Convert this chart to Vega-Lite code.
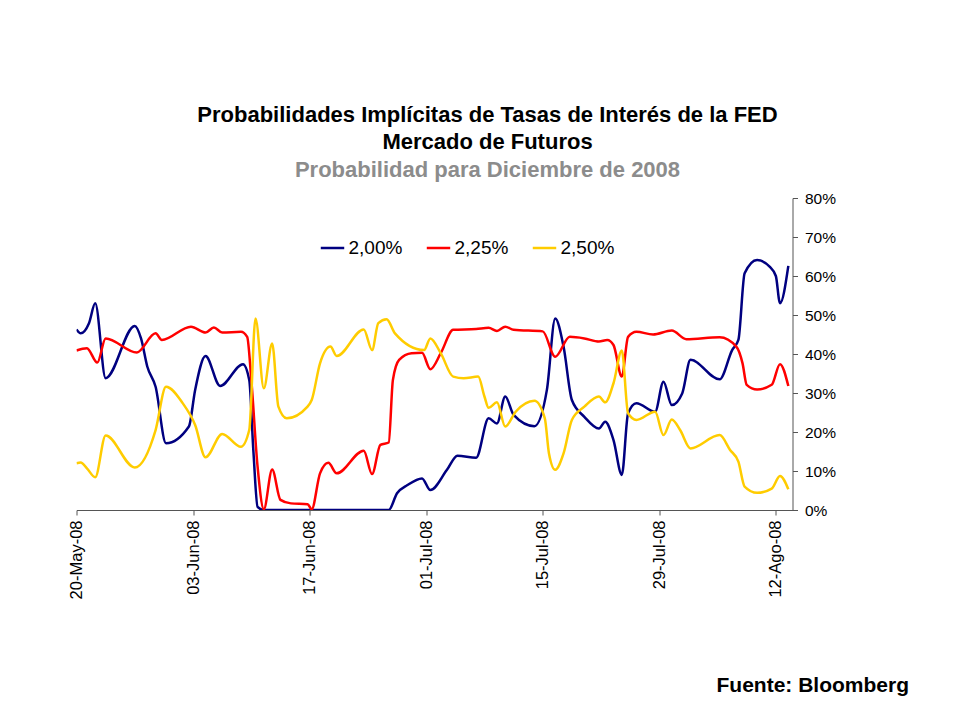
{
  "$schema": "https://vega.github.io/schema/vega-lite/v6.json",
  "width": 716,
  "height": 312,
  "autosize": {"type": "none"},
  "padding": {"left": 76.5, "top": 198, "right": 165.5, "bottom": 210},
  "background": "#ffffff",
  "config": {"view": {"stroke": null}, "font": "Liberation Sans"},
  "title": {
    "text": ["Probabilidades Implícitas de Tasas de Interés de la FED", "Mercado de Futuros"],
    "subtitle": "Probabilidad para Diciembre de 2008",
    "font": "Liberation Sans", "fontSize": 22, "fontWeight": "bold", "color": "#000000",
    "subtitleFont": "Liberation Sans", "subtitleFontSize": 22, "subtitleFontWeight": "bold", "subtitleColor": "#8c8c8c",
    "lineHeight": 27, "subtitleLineHeight": 27, "subtitlePadding": 6,
    "anchor": "middle", "frame": "group", "dx": 53, "offset": 9
  },
  "data": {"values": [
    {"t":"2008-05-20T00:00Z","s":"2,00%","v":46.3},
    {"t":"2008-05-20T12:00Z","s":"2,00%","v":45.3},
    {"t":"2008-05-21T12:00Z","s":"2,00%","v":47.9},
    {"t":"2008-05-22T06:00Z","s":"2,00%","v":53.0},
    {"t":"2008-05-23T12:00Z","s":"2,00%","v":33.8},
    {"t":"2008-05-27T00:00Z","s":"2,00%","v":47.2},
    {"t":"2008-05-27T18:00Z","s":"2,00%","v":44.0},
    {"t":"2008-05-28T12:00Z","s":"2,00%","v":36.8},
    {"t":"2008-05-29T12:00Z","s":"2,00%","v":31.6},
    {"t":"2008-05-30T18:00Z","s":"2,00%","v":17.1},
    {"t":"2008-06-02T12:00Z","s":"2,00%","v":21.4},
    {"t":"2008-06-03T06:00Z","s":"2,00%","v":30.8},
    {"t":"2008-06-04T12:00Z","s":"2,00%","v":39.5},
    {"t":"2008-06-06T06:00Z","s":"2,00%","v":31.8},
    {"t":"2008-06-09T00:00Z","s":"2,00%","v":37.4},
    {"t":"2008-06-09T18:00Z","s":"2,00%","v":33.3},
    {"t":"2008-06-10T06:00Z","s":"2,00%","v":15.0},
    {"t":"2008-06-10T18:00Z","s":"2,00%","v":0.8},
    {"t":"2008-06-11T12:00Z","s":"2,00%","v":0},
    {"t":"2008-06-18T06:00Z","s":"2,00%","v":0},
    {"t":"2008-06-26T12:00Z","s":"2,00%","v":0},
    {"t":"2008-06-27T12:00Z","s":"2,00%","v":4.3},
    {"t":"2008-06-28T18:00Z","s":"2,00%","v":6.4},
    {"t":"2008-06-30T12:00Z","s":"2,00%","v":8.1},
    {"t":"2008-07-01T12:00Z","s":"2,00%","v":5.1},
    {"t":"2008-07-03T12:00Z","s":"2,00%","v":10.3},
    {"t":"2008-07-04T18:00Z","s":"2,00%","v":13.9},
    {"t":"2008-07-07T00:00Z","s":"2,00%","v":13.4},
    {"t":"2008-07-08T12:00Z","s":"2,00%","v":23.5},
    {"t":"2008-07-09T12:00Z","s":"2,00%","v":22.2},
    {"t":"2008-07-10T12:00Z","s":"2,00%","v":29.1},
    {"t":"2008-07-11T12:00Z","s":"2,00%","v":24.4},
    {"t":"2008-07-14T00:00Z","s":"2,00%","v":21.5},
    {"t":"2008-07-15T12:00Z","s":"2,00%","v":30.8},
    {"t":"2008-07-16T12:00Z","s":"2,00%","v":49.1},
    {"t":"2008-07-17T12:00Z","s":"2,00%","v":41.9},
    {"t":"2008-07-18T12:00Z","s":"2,00%","v":28.2},
    {"t":"2008-07-20T00:00Z","s":"2,00%","v":23.9},
    {"t":"2008-07-21T18:00Z","s":"2,00%","v":20.9},
    {"t":"2008-07-22T12:00Z","s":"2,00%","v":22.6},
    {"t":"2008-07-23T12:00Z","s":"2,00%","v":17.9},
    {"t":"2008-07-24T12:00Z","s":"2,00%","v":9.0},
    {"t":"2008-07-25T06:00Z","s":"2,00%","v":24.8},
    {"t":"2008-07-26T06:00Z","s":"2,00%","v":27.4},
    {"t":"2008-07-28T12:00Z","s":"2,00%","v":25.2},
    {"t":"2008-07-29T12:00Z","s":"2,00%","v":32.9},
    {"t":"2008-07-30T12:00Z","s":"2,00%","v":26.9},
    {"t":"2008-07-31T18:00Z","s":"2,00%","v":29.9},
    {"t":"2008-08-01T18:00Z","s":"2,00%","v":38.5},
    {"t":"2008-08-05T06:00Z","s":"2,00%","v":33.5},
    {"t":"2008-08-06T18:00Z","s":"2,00%","v":41.0},
    {"t":"2008-08-07T12:00Z","s":"2,00%","v":43.6},
    {"t":"2008-08-08T06:00Z","s":"2,00%","v":60.7},
    {"t":"2008-08-09T18:00Z","s":"2,00%","v":64.1},
    {"t":"2008-08-11T06:00Z","s":"2,00%","v":62.4},
    {"t":"2008-08-12T00:00Z","s":"2,00%","v":60.0},
    {"t":"2008-08-12T12:00Z","s":"2,00%","v":53.0},
    {"t":"2008-08-13T12:00Z","s":"2,00%","v":62.6},

    {"t":"2008-05-20T00:00Z","s":"2,25%","v":40.9},
    {"t":"2008-05-21T06:00Z","s":"2,25%","v":41.5},
    {"t":"2008-05-22T12:00Z","s":"2,25%","v":37.8},
    {"t":"2008-05-23T12:00Z","s":"2,25%","v":44.0},
    {"t":"2008-05-27T06:00Z","s":"2,25%","v":40.4},
    {"t":"2008-05-29T12:00Z","s":"2,25%","v":45.3},
    {"t":"2008-05-30T06:00Z","s":"2,25%","v":43.6},
    {"t":"2008-06-02T18:00Z","s":"2,25%","v":47.0},
    {"t":"2008-06-04T12:00Z","s":"2,25%","v":45.5},
    {"t":"2008-06-05T12:00Z","s":"2,25%","v":46.8},
    {"t":"2008-06-06T12:00Z","s":"2,25%","v":45.5},
    {"t":"2008-06-08T18:00Z","s":"2,25%","v":45.7},
    {"t":"2008-06-09T12:00Z","s":"2,25%","v":44.4},
    {"t":"2008-06-10T00:00Z","s":"2,25%","v":33.3},
    {"t":"2008-06-10T18:00Z","s":"2,25%","v":11.1},
    {"t":"2008-06-11T12:00Z","s":"2,25%","v":0.2},
    {"t":"2008-06-12T12:00Z","s":"2,25%","v":10.4},
    {"t":"2008-06-13T12:00Z","s":"2,25%","v":2.6},
    {"t":"2008-06-14T18:00Z","s":"2,25%","v":1.7},
    {"t":"2008-06-16T18:00Z","s":"2,25%","v":1.5},
    {"t":"2008-06-17T06:00Z","s":"2,25%","v":0.2},
    {"t":"2008-06-18T06:00Z","s":"2,25%","v":9.4},
    {"t":"2008-06-19T06:00Z","s":"2,25%","v":12.1},
    {"t":"2008-06-20T06:00Z","s":"2,25%","v":9.4},
    {"t":"2008-06-23T12:00Z","s":"2,25%","v":15.2},
    {"t":"2008-06-24T12:00Z","s":"2,25%","v":9.2},
    {"t":"2008-06-25T12:00Z","s":"2,25%","v":16.7},
    {"t":"2008-06-26T12:00Z","s":"2,25%","v":17.3},
    {"t":"2008-06-27T00:00Z","s":"2,25%","v":33.3},
    {"t":"2008-06-27T18:00Z","s":"2,25%","v":38.5},
    {"t":"2008-06-29T06:00Z","s":"2,25%","v":40.2},
    {"t":"2008-06-30T12:00Z","s":"2,25%","v":40.3},
    {"t":"2008-07-01T12:00Z","s":"2,25%","v":36.1},
    {"t":"2008-07-02T18:00Z","s":"2,25%","v":40.2},
    {"t":"2008-07-04T06:00Z","s":"2,25%","v":46.2},
    {"t":"2008-07-07T00:00Z","s":"2,25%","v":46.4},
    {"t":"2008-07-08T12:00Z","s":"2,25%","v":46.7},
    {"t":"2008-07-09T12:00Z","s":"2,25%","v":45.9},
    {"t":"2008-07-10T12:00Z","s":"2,25%","v":47.0},
    {"t":"2008-07-11T12:00Z","s":"2,25%","v":46.2},
    {"t":"2008-07-15T00:00Z","s":"2,25%","v":45.8},
    {"t":"2008-07-16T12:00Z","s":"2,25%","v":39.3},
    {"t":"2008-07-18T06:00Z","s":"2,25%","v":44.4},
    {"t":"2008-07-20T00:00Z","s":"2,25%","v":44.0},
    {"t":"2008-07-21T18:00Z","s":"2,25%","v":43.2},
    {"t":"2008-07-22T18:00Z","s":"2,25%","v":43.6},
    {"t":"2008-07-23T12:00Z","s":"2,25%","v":42.3},
    {"t":"2008-07-24T12:00Z","s":"2,25%","v":34.2},
    {"t":"2008-07-25T06:00Z","s":"2,25%","v":44.4},
    {"t":"2008-07-26T06:00Z","s":"2,25%","v":45.7},
    {"t":"2008-07-28T06:00Z","s":"2,25%","v":45.0},
    {"t":"2008-07-30T12:00Z","s":"2,25%","v":46.0},
    {"t":"2008-08-01T06:00Z","s":"2,25%","v":43.8},
    {"t":"2008-08-05T06:00Z","s":"2,25%","v":44.3},
    {"t":"2008-08-07T06:00Z","s":"2,25%","v":41.9},
    {"t":"2008-08-08T00:00Z","s":"2,25%","v":37.6},
    {"t":"2008-08-08T12:00Z","s":"2,25%","v":32.1},
    {"t":"2008-08-09T18:00Z","s":"2,25%","v":30.9},
    {"t":"2008-08-11T12:00Z","s":"2,25%","v":32.1},
    {"t":"2008-08-12T12:00Z","s":"2,25%","v":37.4},
    {"t":"2008-08-13T12:00Z","s":"2,25%","v":31.8},

    {"t":"2008-05-20T00:00Z","s":"2,50%","v":12.0},
    {"t":"2008-05-20T12:00Z","s":"2,50%","v":12.2},
    {"t":"2008-05-21T06:00Z","s":"2,50%","v":10.7},
    {"t":"2008-05-22T06:00Z","s":"2,50%","v":8.4},
    {"t":"2008-05-23T12:00Z","s":"2,50%","v":19.1},
    {"t":"2008-05-27T00:00Z","s":"2,50%","v":10.9},
    {"t":"2008-05-29T12:00Z","s":"2,50%","v":20.5},
    {"t":"2008-05-30T18:00Z","s":"2,50%","v":31.6},
    {"t":"2008-06-01T18:00Z","s":"2,50%","v":27.4},
    {"t":"2008-06-03T06:00Z","s":"2,50%","v":21.8},
    {"t":"2008-06-04T12:00Z","s":"2,50%","v":13.5},
    {"t":"2008-06-06T12:00Z","s":"2,50%","v":19.5},
    {"t":"2008-06-08T18:00Z","s":"2,50%","v":16.2},
    {"t":"2008-06-09T18:00Z","s":"2,50%","v":20.5},
    {"t":"2008-06-10T12:00Z","s":"2,50%","v":49.1},
    {"t":"2008-06-11T12:00Z","s":"2,50%","v":31.2},
    {"t":"2008-06-12T12:00Z","s":"2,50%","v":42.7},
    {"t":"2008-06-13T06:00Z","s":"2,50%","v":26.5},
    {"t":"2008-06-14T06:00Z","s":"2,50%","v":23.5},
    {"t":"2008-06-16T18:00Z","s":"2,50%","v":26.5},
    {"t":"2008-06-17T06:00Z","s":"2,50%","v":28.2},
    {"t":"2008-06-18T06:00Z","s":"2,50%","v":37.6},
    {"t":"2008-06-19T12:00Z","s":"2,50%","v":41.9},
    {"t":"2008-06-20T06:00Z","s":"2,50%","v":39.5},
    {"t":"2008-06-23T12:00Z","s":"2,50%","v":46.3},
    {"t":"2008-06-24T12:00Z","s":"2,50%","v":41.0},
    {"t":"2008-06-25T06:00Z","s":"2,50%","v":47.9},
    {"t":"2008-06-26T06:00Z","s":"2,50%","v":48.9},
    {"t":"2008-06-27T06:00Z","s":"2,50%","v":45.3},
    {"t":"2008-06-30T18:00Z","s":"2,50%","v":41.0},
    {"t":"2008-07-01T12:00Z","s":"2,50%","v":44.0},
    {"t":"2008-07-02T18:00Z","s":"2,50%","v":40.2},
    {"t":"2008-07-04T06:00Z","s":"2,50%","v":34.2},
    {"t":"2008-07-05T12:00Z","s":"2,50%","v":33.8},
    {"t":"2008-07-07T06:00Z","s":"2,50%","v":34.2},
    {"t":"2008-07-08T00:00Z","s":"2,50%","v":29.1},
    {"t":"2008-07-08T12:00Z","s":"2,50%","v":26.2},
    {"t":"2008-07-09T12:00Z","s":"2,50%","v":27.6},
    {"t":"2008-07-10T12:00Z","s":"2,50%","v":21.4},
    {"t":"2008-07-11T18:00Z","s":"2,50%","v":25.2},
    {"t":"2008-07-14T00:00Z","s":"2,50%","v":28.0},
    {"t":"2008-07-15T06:00Z","s":"2,50%","v":23.5},
    {"t":"2008-07-15T18:00Z","s":"2,50%","v":14.5},
    {"t":"2008-07-16T12:00Z","s":"2,50%","v":10.3},
    {"t":"2008-07-17T12:00Z","s":"2,50%","v":14.5},
    {"t":"2008-07-18T12:00Z","s":"2,50%","v":23.1},
    {"t":"2008-07-20T00:00Z","s":"2,50%","v":26.5},
    {"t":"2008-07-21T18:00Z","s":"2,50%","v":29.1},
    {"t":"2008-07-22T12:00Z","s":"2,50%","v":27.6},
    {"t":"2008-07-23T12:00Z","s":"2,50%","v":32.5},
    {"t":"2008-07-24T12:00Z","s":"2,50%","v":40.9},
    {"t":"2008-07-25T06:00Z","s":"2,50%","v":24.8},
    {"t":"2008-07-26T06:00Z","s":"2,50%","v":23.1},
    {"t":"2008-07-28T12:00Z","s":"2,50%","v":25.2},
    {"t":"2008-07-29T12:00Z","s":"2,50%","v":19.2},
    {"t":"2008-07-30T12:00Z","s":"2,50%","v":23.2},
    {"t":"2008-07-31T12:00Z","s":"2,50%","v":20.5},
    {"t":"2008-08-01T18:00Z","s":"2,50%","v":15.8},
    {"t":"2008-08-05T06:00Z","s":"2,50%","v":19.2},
    {"t":"2008-08-06T12:00Z","s":"2,50%","v":15.4},
    {"t":"2008-08-07T12:00Z","s":"2,50%","v":12.4},
    {"t":"2008-08-08T06:00Z","s":"2,50%","v":6.0},
    {"t":"2008-08-09T18:00Z","s":"2,50%","v":4.4},
    {"t":"2008-08-11T12:00Z","s":"2,50%","v":5.5},
    {"t":"2008-08-12T12:00Z","s":"2,50%","v":8.7},
    {"t":"2008-08-13T12:00Z","s":"2,50%","v":5.3}
  ]},
  "mark": {"type": "line", "interpolate": "monotone", "strokeWidth": 2.5, "clip": true},
  "encoding": {
    "x": {
      "field": "t", "type": "temporal",
      "scale": {"type": "utc", "domain": [{"year": 2008, "month": 5, "date": 20, "utc": true}, {"year": 2008, "month": 8, "date": 14, "utc": true}]},
      "axis": {
        "values": [
          {"year": 2008, "month": 5, "date": 20, "utc": true},
          {"year": 2008, "month": 6, "date": 3, "utc": true},
          {"year": 2008, "month": 6, "date": 17, "utc": true},
          {"year": 2008, "month": 7, "date": 1, "utc": true},
          {"year": 2008, "month": 7, "date": 15, "utc": true},
          {"year": 2008, "month": 7, "date": 29, "utc": true},
          {"year": 2008, "month": 8, "date": 12, "utc": true}
        ],
        "labelExpr": "replace(utcFormat(datum.value, '%d-%b-%y'), 'Aug', 'Ago')",
        "labelAngle": -90, "labelFontSize": 16.5, "labelColor": "#000000", "labelPadding": 5,
        "labelFont": "Liberation Sans",
        "grid": false, "tickSize": 5, "tickColor": "#555555", "domainColor": "#555555",
        "title": "Fuente: Bloomberg", "titleFont": "Liberation Sans", "titleFontSize": 21, "titleFontWeight": "bold",
        "titleColor": "#000000", "titleX": 832, "titleY": 181, "titleAlign": "right", "titleBaseline": "alphabetic"
      }
    },
    "y": {
      "field": "v", "type": "quantitative",
      "scale": {"domain": [0, 80]},
      "axis": {
        "orient": "right", "values": [0, 10, 20, 30, 40, 50, 60, 70, 80],
        "labelExpr": "datum.value + '%'", "labelFontSize": 15.5, "labelColor": "#000000", "labelFont": "Liberation Sans",
        "labelPadding": 7, "grid": false, "tickSize": 5, "tickColor": "#555555", "domainColor": "#555555", "title": null
      }
    },
    "color": {
      "field": "s", "type": "nominal",
      "scale": {"domain": ["2,00%", "2,25%", "2,50%"], "range": ["#000080", "#ff0000", "#ffcc00"]},
      "legend": {
        "title": null, "orient": "none", "direction": "horizontal", "legendX": 243, "legendY": 37,
        "symbolType": "stroke", "symbolSize": 550, "symbolStrokeWidth": 2.5,
        "labelFontSize": 19, "labelFont": "Liberation Sans", "labelColor": "#000000", "labelOffset": 3,
        "columnPadding": 19
      }
    }
  }
}
